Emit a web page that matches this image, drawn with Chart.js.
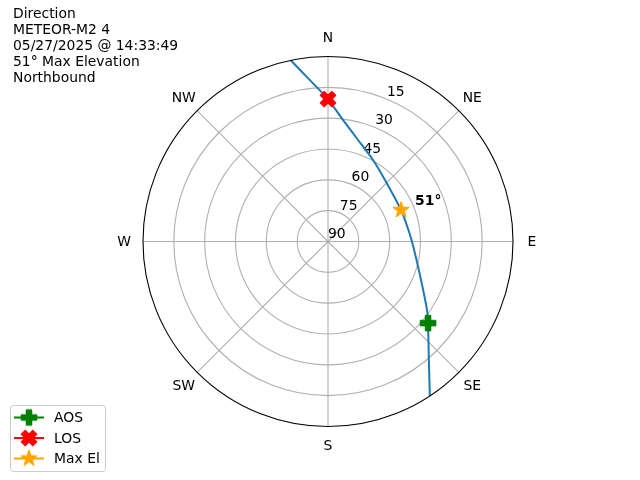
<!DOCTYPE html>
<html>
<head>
<meta charset="utf-8">
<script src="https://cdn.jsdelivr.net/npm/chart.js@4.4.1/dist/chart.umd.min.js"></script>
<style>
  body { margin: 0; background: #fff; }
</style>
</head>
<body>
<canvas id="grafico-passagem" width="640" height="480"></canvas>
<script>
// trajetoria da passagem (azimute em graus, elevacao em graus)
const trackAz = [146.6, 139.6, 129.2, 124.7, 110.0, 90.3, 78.9, 66.7, 42.8, 28.9, 16.5, 7.0, 0.0, 353.6, 348.4];
const trackEl = [0.0, 14.3, 27.2, 31.4, 42.4, 49.1, 50.8, 51.3, 49.2, 44.7, 38.5, 30.4, 20.7, 11.0, 0.0];

const aosAz = [129.2];
const aosEl = [27.2];
const losAz = [0.0];
const losEl = [20.7];
const maxAz = [66.7];
const maxEl = [51.3];

const elevationTicks = [90, 75, 60, 45, 30, 15];
const compassLabels = ["N", "NE", "E", "SE", "S", "SW", "W", "NW"];
const titleLines = ["Direction", "METEOR-M2 4", "05/27/2025 @ 14:33:49", "51° Max Elevation", "Northbound"];
const legendLabels = ["AOS", "LOS", "Max El"];

const FONT = '"DejaVu Sans", sans-serif';

const toXY = (az, el) => {
    return az.map((a, i) => {
        const r = 90 - el[i];
        const rad = (a * Math.PI) / 180;
        return { x: r * Math.sin(rad), y: r * Math.cos(rad) };
    });
};

// marcadores no estilo do matplotlib
const criarMarcador = (forma, cor) => {
    const c = document.createElement("canvas");
    c.width = 22;
    c.height = 22;
    const g = c.getContext("2d");
    g.translate(11, 11);
    g.fillStyle = cor;
    g.strokeStyle = cor;
    g.lineWidth = 1.4;
    g.lineJoin = "round";
    const s = 7.6;
    let pts = [];
    if (forma === "plus") {
        pts = [[-1, -3], [1, -3], [1, -1], [3, -1], [3, 1], [1, 1], [1, 3], [-1, 3], [-1, 1], [-3, 1], [-3, -1], [-1, -1]]
            .map(([a, b]) => [(a / 6) * 2 * s, (b / 6) * 2 * s]);
    } else if (forma === "x") {
        pts = [[-1, -2], [0, -1], [1, -2], [2, -1], [1, 0], [2, 1], [1, 2], [0, 1], [-1, 2], [-2, 1], [-1, 0], [-2, -1]]
            .map(([a, b]) => [(a / 4) * 2 * s, (b / 4) * 2 * s]);
    } else {
        const R = 8.0;
        for (let i = 0; i < 10; i++) {
            const rr = i % 2 === 0 ? R : R * 0.381966;
            const ang = (i * Math.PI) / 5 - Math.PI / 2;
            pts.push([rr * Math.cos(ang), rr * Math.sin(ang)]);
        }
    }
    g.beginPath();
    pts.forEach(([a, b], i) => (i === 0 ? g.moveTo(a, b) : g.lineTo(a, b)));
    g.closePath();
    g.fill();
    g.stroke();
    return c;
};

const marcadorAos = criarMarcador("plus", "green");
const marcadorLos = criarMarcador("x", "red");
const marcadorMax = criarMarcador("star", "orange");

const gradePolar = {
    id: "gradePolar",
    beforeDatasetsDraw(chart) {
        const { ctx, scales } = chart;
        const cx = scales.x.getPixelForValue(0);
        const cy = scales.y.getPixelForValue(0);
        const unit = scales.x.getPixelForValue(1) - cx;
        const R = 90 * unit;

        ctx.save();
        ctx.strokeStyle = "#b0b0b0";
        ctx.lineWidth = 1.1;
        elevationTicks.forEach((el) => {
            const r = (90 - el) * unit;
            if (r <= 0) return;
            ctx.beginPath();
            ctx.arc(cx, cy, r, 0, Math.PI * 2);
            ctx.stroke();
        });
        compassLabels.forEach((_, i) => {
            const a = (i * 45 * Math.PI) / 180;
            ctx.beginPath();
            ctx.moveTo(cx, cy);
            ctx.lineTo(cx + R * Math.sin(a), cy - R * Math.cos(a));
            ctx.stroke();
        });

        ctx.fillStyle = "#000";
        ctx.font = "13.9px " + FONT;
        ctx.textAlign = "center";
        ctx.textBaseline = "middle";
        compassLabels.forEach((lbl, i) => {
            const a = (i * 45 * Math.PI) / 180;
            ctx.fillText(lbl, cx + 204 * Math.sin(a), cy - 204 * Math.cos(a) + 1);
        });

        ctx.textAlign = "left";
        ctx.textBaseline = "bottom";
        const la = (22.5 * Math.PI) / 180;
        elevationTicks.forEach((el) => {
            const r = (90 - el) * unit;
            ctx.fillText(String(el), cx + r * Math.sin(la), cy - r * Math.cos(la));
        });
        ctx.restore();
    },
    afterDatasetsDraw(chart) {
        const { ctx, scales } = chart;
        const cx = scales.x.getPixelForValue(0);
        const cy = scales.y.getPixelForValue(0);
        const R = 90 * (scales.x.getPixelForValue(1) - cx);
        ctx.save();
        ctx.strokeStyle = "#000";
        ctx.lineWidth = 1.1;
        ctx.beginPath();
        ctx.arc(cx, cy, R, 0, Math.PI * 2);
        ctx.stroke();

        // anotacao da elevacao maxima
        const p = toXY(maxAz, maxEl)[0];
        const px = scales.x.getPixelForValue(p.x);
        const py = scales.y.getPixelForValue(p.y);
        ctx.fillStyle = "#000";
        ctx.font = "bold 13.9px " + FONT;
        ctx.textAlign = "left";
        ctx.textBaseline = "middle";
        ctx.fillText(Math.round(maxEl[0]) + "°", px + 14, py - 9);
        ctx.restore();
    },
    afterDraw(chart) {
        const { ctx } = chart;
        ctx.save();
        ctx.fillStyle = "#000";
        ctx.font = "13.9px " + FONT;
        ctx.textAlign = "left";
        ctx.textBaseline = "alphabetic";
        titleLines.forEach((linha, i) => {
            ctx.fillText(linha, 13, 17.5 + i * 16.1);
        });

        // legenda
        ctx.fillStyle = "rgba(255,255,255,0.8)";
        ctx.strokeStyle = "#cccccc";
        ctx.lineWidth = 1;
        ctx.beginPath();
        ctx.roundRect(10.5, 405.5, 95, 66, 3);
        ctx.fill();
        ctx.stroke();

        const cores = ["green", "red", "orange"];
        const marcadores = [marcadorAos, marcadorLos, marcadorMax];
        legendLabels.forEach((lbl, i) => {
            const y = 417.5 + i * 20.5;
            ctx.strokeStyle = cores[i];
            ctx.lineWidth = 2;
            ctx.beginPath();
            ctx.moveTo(14, y);
            ctx.lineTo(44, y);
            ctx.stroke();
            ctx.drawImage(marcadores[i], 29 - 11, y - 11);
            ctx.fillStyle = "#000";
            ctx.textBaseline = "middle";
            ctx.fillText(lbl, 54, y + 1);
        });
        ctx.restore();
    },
};

const ctx = document.getElementById("grafico-passagem").getContext("2d");

new Chart(ctx, {
    type: "scatter",
    data: {
        datasets: [
            {
                label: "Track",
                data: toXY(trackAz, trackEl),
                showLine: true,
                borderColor: "#1f77b4",
                borderWidth: 2,
                pointRadius: 0,
                tension: 0.15,
                order: 10,
            },
            {
                label: "AOS",
                data: toXY(aosAz, aosEl),
                pointStyle: marcadorAos,
                order: 1,
            },
            {
                label: "LOS",
                data: toXY(losAz, losEl),
                pointStyle: marcadorLos,
                order: 1,
            },
            {
                label: "Max El",
                data: toXY(maxAz, maxEl),
                pointStyle: marcadorMax,
                order: 1,
            },
        ],
    },
    options: {
        responsive: false,
        animation: false,
        layout: {
            padding: { left: 143, right: 127, top: 56.5, bottom: 53.5 },
        },
        scales: {
            x: { min: -90, max: 90, display: false },
            y: { min: -90, max: 90, display: false },
        },
        plugins: {
            legend: { display: false },
            tooltip: { enabled: false },
        },
    },
    plugins: [gradePolar],
});
</script>
</body>
</html>
